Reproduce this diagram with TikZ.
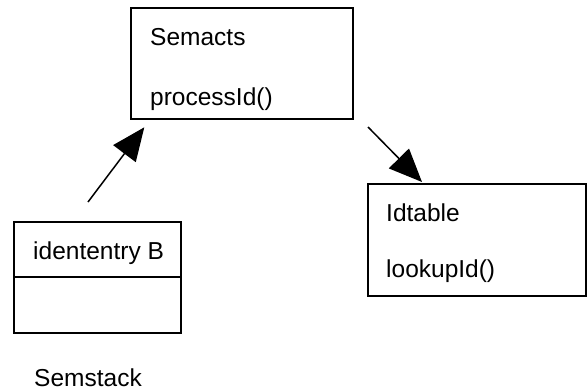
\documentclass[tikz,border=0pt]{standalone}
\usepackage{fontspec}
\setmainfont{Liberation Sans}
\usetikzlibrary{arrows.meta}
\begin{document}
\begin{tikzpicture}[x=1pt,y=-1pt,
  box/.style={draw,line width=2pt,rectangle,inner sep=0pt,anchor=north west},
  lbl/.style={anchor=base west,inner sep=0pt,font=\fontsize{24.5}{28}\selectfont},
  conn/.style={line width=1.5pt,-{Triangle[length=33pt,width=28pt]}}]
\useasboundingbox (0,0) rectangle (587,391);
% Semacts
\node[box,minimum width=222pt,minimum height=111pt] (semacts) at (130,7) {};
\node[lbl] (t1) at (150,45) {Semacts};
\node[lbl] (t2) at (150,105) {processId()};
% Idtable
\node[box,minimum width=218pt,minimum height=112pt] (idtable) at (367,183) {};
\node[lbl] (t3) at (386,221) {Idtable};
\node[lbl] (t4) at (386,277) {lookupId()};
% idententry
\node[box,minimum width=167pt,minimum height=111pt] (ident) at (13,221) {};
\draw[line width=2pt] (ident.west |- 0,277) coordinate (sl) -- (ident.east |- 0,277) coordinate (sr);
\node[lbl] (t5) at (33,259) {idententry B};
\node[lbl] (t6) at (34,386) {Semstack};
% arrows
\coordinate (a1s) at (88,202);
\coordinate (a1e) at (144.3,127.3);
\coordinate (a2s) at (368,127);
\coordinate (a2e) at (422,182);
\draw[conn] (a1s) -- (a1e);
\draw[conn] (a2s) -- (a2e);
\end{tikzpicture}
\end{document}
